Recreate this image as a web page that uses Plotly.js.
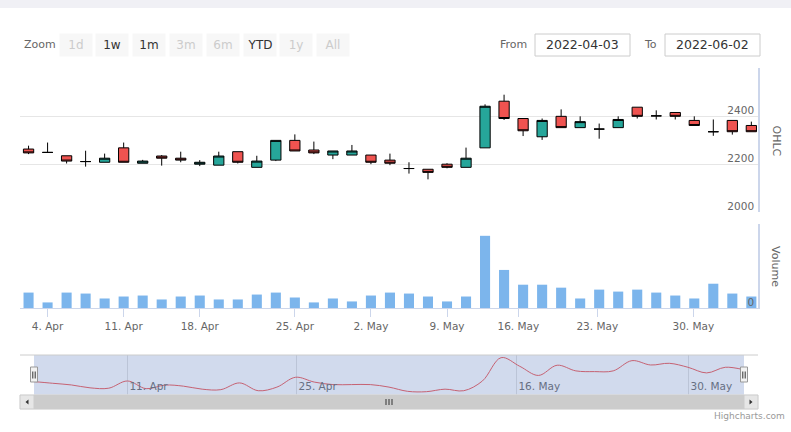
<!DOCTYPE html>
<html>
<head>
<meta charset="utf-8">
<script src="https://cdn.plot.ly/plotly-3.0.1.min.js"></script>
<style>
  html, body { margin: 0; padding: 0; background: #ffffff; }
  #chart { width: 791px; height: 432px; }
</style>
</head>
<body>
<div id="chart"></div>
<script>
// ---- data ----
const opens  = [2263,2249,2235,2211,2208,2268,2204,2234,2225,2200,2196,2252,2187,2217,2299,2259,2238,2238,2238,2217,2182,2179,2200,2187,2268,2462,2390,2314,2399,2352,2346,2352,2437,2401,2415,2382,2335,2382,2361];
const highs  = [2277,2290,2235,2256,2244,2290,2218,2238,2252,2217,2252,2252,2235,2299,2324,2294,2255,2280,2238,2244,2208,2179,2204,2269,2449,2489,2390,2390,2428,2399,2369,2399,2437,2424,2415,2399,2386,2382,2377];
const lows   = [2242,2247,2203,2190,2208,2208,2204,2194,2208,2192,2196,2203,2187,2213,2255,2242,2221,2238,2200,2196,2161,2137,2183,2187,2268,2384,2317,2301,2352,2352,2306,2352,2390,2386,2386,2361,2318,2323,2335];
const closes = [2247,2249,2213,2211,2225,2208,2213,2225,2217,2208,2234,2208,2213,2299,2255,2247,2255,2255,2208,2204,2182,2166,2187,2225,2441,2390,2339,2382,2352,2377,2346,2386,2399,2401,2399,2361,2335,2335,2335];
const volumes = [470000,170000,470000,440000,290000,350000,380000,260000,350000,380000,260000,260000,410000,470000,320000,170000,290000,200000,380000,470000,440000,350000,200000,350000,2200000,1160000,710000,710000,620000,290000,560000,500000,560000,470000,380000,290000,740000,440000,350000];

const tickLabels = ['4. Apr','11. Apr','18. Apr','25. Apr','2. May','9. May','16. May','23. May','30. May'];
const tickIdx    = [1, 5, 9, 14, 18, 22, 25.75, 29.9, 34.95];
const navTickLabels = ['11. Apr','25. Apr','16. May','30. May'];
const navTickIdx    = [5, 14.05, 25.82, 35.03];

const buttonLabels  = ['1d','1w','1m','3m','6m','YTD','1y','All'];
const buttonEnabled = [false,true,true,false,false,true,false,false];
const fromDate = '2022-04-03';
const toDate   = '2022-06-02';

// ---- helpers for pixel -> paper conversion ----
const L = 20, R = 758, T = 68, B = 395;
const px = p => (p - L) / (R - L);
const py = p => (B - p) / (B - T);

const idx = opens.map((_, i) => i);
const FONT = 'DejaVu Sans, Verdana, sans-serif';

const traces = [
  {
    type: 'candlestick', x: idx, open: opens, high: highs, low: lows, close: closes,
    xaxis: 'x', yaxis: 'y',
    increasing: { line: { color: '#000000', width: 1 }, fillcolor: '#26a69a' },
    decreasing: { line: { color: '#000000', width: 1 }, fillcolor: '#ef5350' },
    whiskerwidth: 0, hoverinfo: 'skip', showlegend: false
  },
  {
    type: 'bar', x: idx, y: volumes, xaxis: 'x2', yaxis: 'y2',
    marker: { color: '#7cb5ec', line: { width: 0 } },
    hoverinfo: 'skip', showlegend: false
  },
  {
    type: 'scatter', mode: 'lines', x: idx, y: opens, xaxis: 'x3', yaxis: 'y3',
    line: { color: '#ef5350', width: 1, shape: 'spline', smoothing: 1 },
    hoverinfo: 'skip', showlegend: false
  }
];

const shapes = [];
const annotations = [];

// top strip
shapes.push({ type: 'rect', xref: 'paper', yref: 'paper', x0: px(0), x1: px(791), y0: py(8), y1: py(0),
  fillcolor: '#f0f0f5', line: { width: 0 }, layer: 'below' });

// range selector
annotations.push({ xref: 'paper', yref: 'paper', x: px(21.5), y: py(45), xanchor: 'left', yanchor: 'middle',
  text: 'Zoom', showarrow: false, font: { family: FONT, size: 11, color: '#666666' } });
buttonLabels.forEach((b, i) => {
  annotations.push({ xref: 'paper', yref: 'paper', x: px(75.5 + i * 36.8), y: py(45),
    xanchor: 'center', yanchor: 'middle', text: b, showarrow: false,
    width: 32, height: 22, borderpad: 0, bgcolor: '#f7f7f7',
    font: { family: FONT, size: 12, color: buttonEnabled[i] ? '#333333' : '#cccccc' } });
});

// from / to inputs
annotations.push({ xref: 'paper', yref: 'paper', x: px(498), y: py(45), xanchor: 'left', yanchor: 'middle',
  text: 'From', showarrow: false, font: { family: FONT, size: 11, color: '#666666' } });
annotations.push({ xref: 'paper', yref: 'paper', x: px(642), y: py(45), xanchor: 'left', yanchor: 'middle',
  text: 'To', showarrow: false, font: { family: FONT, size: 11, color: '#666666' } });
[[535, 630, fromDate], [665, 760, toDate]].forEach(([a, b, t]) => {
  shapes.push({ type: 'rect', xref: 'paper', yref: 'paper', x0: px(a), x1: px(b), y0: py(56), y1: py(34),
    fillcolor: '#ffffff', line: { color: '#cccccc', width: 1 } });
  annotations.push({ xref: 'paper', yref: 'paper', x: px((a + b) / 2), y: py(45), xanchor: 'center', yanchor: 'middle',
    text: t, showarrow: false, font: { family: FONT, size: 12.5, color: '#333333' } });
});

// axis titles
annotations.push({ xref: 'paper', yref: 'paper', x: px(776), y: py(140.5), xanchor: 'center', yanchor: 'middle',
  text: 'OHLC', textangle: 90, showarrow: false, font: { family: FONT, size: 11, color: '#666666' } });
annotations.push({ xref: 'paper', yref: 'paper', x: px(776), y: py(266), xanchor: 'center', yanchor: 'middle',
  text: 'Volume', textangle: 90, showarrow: false, font: { family: FONT, size: 11, color: '#666666' } });

// navigator
shapes.push({ type: 'rect', xref: 'x3', yref: 'y3 domain', x0: 0, x1: 38, y0: 0, y1: 1,
  fillcolor: 'rgba(102,133,194,0.3)', line: { width: 0 }, layer: 'above' });
shapes.push({ type: 'line', xref: 'paper', yref: 'paper', x0: 0, x1: 1, y0: py(355), y1: py(355),
  line: { color: '#cccccc', width: 1 } });
// scrollbar
shapes.push({ type: 'rect', xref: 'paper', yref: 'paper', x0: 0, x1: 1, y0: py(409), y1: py(395),
  fillcolor: '#f2f2f2', line: { color: '#f2f2f2', width: 1 } });
shapes.push({ type: 'rect', xref: 'paper', yref: 'paper', x0: px(34), x1: px(744), y0: py(409), y1: py(395),
  fillcolor: '#cccccc', line: { color: '#cccccc', width: 1 } });
shapes.push({ type: 'rect', xref: 'paper', yref: 'paper', x0: 0, x1: px(34), y0: py(409), y1: py(395),
  fillcolor: '#e6e6e6', line: { color: '#cccccc', width: 1 } });
shapes.push({ type: 'rect', xref: 'paper', yref: 'paper', x0: px(744), x1: 1, y0: py(409), y1: py(395),
  fillcolor: '#e6e6e6', line: { color: '#cccccc', width: 1 } });
const tri = pts => 'M' + pts.map(p => px(p[0]) + ',' + py(p[1])).join('L') + 'Z';
shapes.push({ type: 'path', xref: 'paper', yref: 'paper', path: tri([[25.5, 402], [28.5, 399.5], [28.5, 404.5]]),
  fillcolor: '#333333', line: { width: 0 } });
shapes.push({ type: 'path', xref: 'paper', yref: 'paper', path: tri([[752.5, 402], [749.5, 399.5], [749.5, 404.5]]),
  fillcolor: '#333333', line: { width: 0 } });
[386, 389, 392].forEach(x => shapes.push({ type: 'line', xref: 'paper', yref: 'paper',
  x0: px(x), x1: px(x), y0: py(405), y1: py(399), line: { color: '#333333', width: 1 } }));
// handles
[34, 744].forEach(c => {
  shapes.push({ type: 'rect', xref: 'paper', yref: 'paper', x0: px(c - 3.5), x1: px(c + 3.5), y0: py(382), y1: py(367),
    fillcolor: '#f2f2f2', line: { color: '#999999', width: 1 }, layer: 'above' });
  [c - 1.2, c + 1.2].forEach(x => shapes.push({ type: 'line', xref: 'paper', yref: 'paper',
    x0: px(x), x1: px(x), y0: py(378.5), y1: py(371.5), line: { color: '#333333', width: 1 } }));
});

// credits
annotations.push({ xref: 'paper', yref: 'paper', x: px(787), y: py(416), xanchor: 'right', yanchor: 'middle',
  text: 'Highcharts.com', showarrow: false, font: { family: FONT, size: 9, color: '#999999' } });

const tickFont = { family: FONT, size: 10.5, color: '#666666' };

const layout = {
  width: 791, height: 432,
  margin: { l: L, r: 791 - R, t: T, b: 432 - B, pad: 0 },
  paper_bgcolor: '#ffffff', plot_bgcolor: 'rgba(0,0,0,0)',
  showlegend: false, hovermode: false,
  font: { family: FONT },
  boxgap: 0.46, boxgroupgap: 0, bargap: 0.47,
  xaxis: { domain: [0, 1], anchor: 'y', range: [-0.45, 38.35], showticklabels: false, showgrid: false,
    zeroline: false, showline: false, ticks: '', rangeslider: { visible: false }, fixedrange: true },
  yaxis: { domain: [py(212.3), 1], anchor: 'x', side: 'right', range: [2000, 2600],
    tickvals: [2000, 2200, 2400, 2600], ticktext: ['2000', '2200', '2400', ''],
    showgrid: true, gridcolor: '#e6e6e6', gridwidth: 1, zeroline: false,
    showline: true, linecolor: '#ccd6eb', linewidth: 2,
    ticks: '', ticklabelposition: 'inside', ticklabelshift: -6, ticklabelstandoff: 3,
    tickfont: tickFont, fixedrange: true },
  xaxis2: { domain: [0, 1], anchor: 'y2', range: [-0.45, 38.35], tickvals: tickIdx, ticktext: tickLabels,
    ticks: 'outside', ticklen: 8, tickcolor: '#ccd6eb', tickwidth: 1,
    showline: true, linecolor: '#ccd6eb', linewidth: 1, showgrid: false, zeroline: false,
    tickfont: tickFont, fixedrange: true },
  yaxis2: { domain: [py(308), py(224)], anchor: 'x2', side: 'right', range: [0, 2560000],
    tickvals: [0, 2560000], ticktext: ['0', ''],
    showgrid: true, gridcolor: '#e6e6e6', gridwidth: 1, zeroline: false,
    showline: true, linecolor: '#ccd6eb', linewidth: 2,
    ticks: '', ticklabelposition: 'inside', ticklabelshift: -6, ticklabelstandoff: 3,
    tickfont: tickFont, fixedrange: true },
  xaxis3: { domain: [0, 1], anchor: 'y3', range: [-0.75, 38.75], tickvals: navTickIdx, ticktext: navTickLabels,
    showgrid: true, gridcolor: '#e0e0e0', gridwidth: 1, zeroline: false, showline: false, ticks: '',
    ticklabelposition: 'inside right', ticklabelstandoff: -3, ticklabelshift: 2,
    tickfont: { family: FONT, size: 10.5, color: '#666666' }, fixedrange: true },
  yaxis3: { domain: [0, py(355)], anchor: 'x3', range: [2151.5, 2484], visible: false, fixedrange: true },
  shapes: shapes,
  annotations: annotations
};

Plotly.newPlot('chart', traces, layout, { displayModeBar: false, staticPlot: true });
</script>
</body>
</html>
